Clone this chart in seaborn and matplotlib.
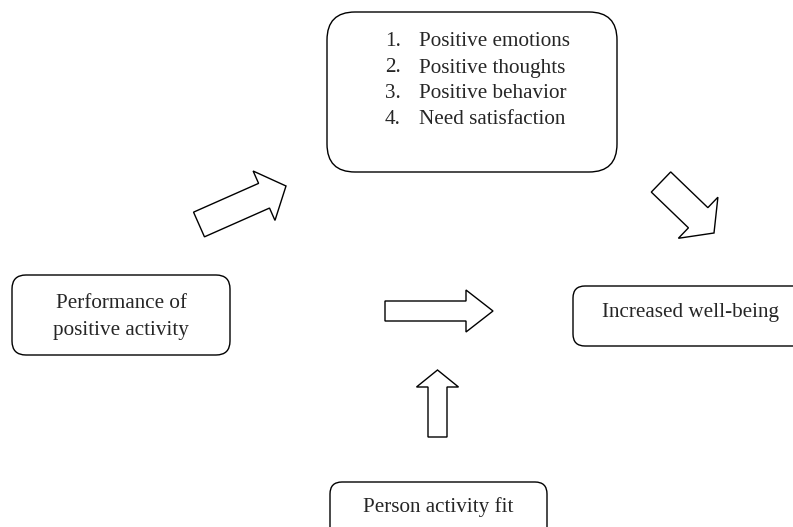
import matplotlib
matplotlib.use("Agg")
import matplotlib.pyplot as plt
import seaborn as sns
from matplotlib.patches import FancyBboxPatch, FancyArrow

sns.set_style("white")
plt.rcParams["font.family"] = ["Liberation Serif", "DejaVu Serif"]

# diagram content
mechanisms = ["Positive emotions", "Positive thoughts", "Positive behavior", "Need satisfaction"]
start_label = ["Performance of", "positive activity"]
end_label = "Increased well-being"
moderator_label = "Person activity fit"

FS = 15.2

fig = plt.figure(figsize=(7.93, 5.27), dpi=100)
ax = fig.add_axes([0, 0, 1, 1])
ax.set_xlim(0, 793)
ax.set_ylim(527, 0)
ax.axis("off")


def box(x, y, w, h, r):
    ax.add_patch(FancyBboxPatch((x, y), w, h, boxstyle=f"round,pad=0,rounding_size={r}",
                                fc="white", ec="black", lw=1.0, clip_on=True))


def block_arrow(x, y, dx, dy, width, head_width, head_length):
    ax.add_patch(FancyArrow(x, y, dx, dy, width=width, head_width=head_width,
                            head_length=head_length, length_includes_head=True,
                            fc="white", ec="black", lw=1.0))


# boxes
box(327, 12, 290, 160, 28)
box(12, 275, 218, 80, 14)
box(573, 286, 240, 60, 12)
box(330, 482, 217, 60, 12)

# mechanism list
for i, item in enumerate(mechanisms):
    y = 42 + i * 26
    ax.text(385, y, f"{i + 1}.", fontsize=FS, va="center", ha="left")
    ax.text(419, y, item, fontsize=FS, va="center", ha="left")

ax.text(121, 304, start_label[0], fontsize=FS, ha="center", va="center")
ax.text(121, 330, start_label[1], fontsize=FS, ha="center", va="center")
ax.text(690, 313, end_label, fontsize=FS, ha="center", va="center")
ax.text(438, 507, moderator_label, fontsize=FS, ha="center", va="center")

# arrows
block_arrow(199, 224.5, 87, -38.5, 27, 54, 24)
block_arrow(661, 182, 53, 51, 28, 57, 22)
block_arrow(385, 311, 108, 0, 20, 42, 27)
block_arrow(437.5, 437, 0, -67, 19, 42, 17)

fig.savefig("out.png", dpi=100)
